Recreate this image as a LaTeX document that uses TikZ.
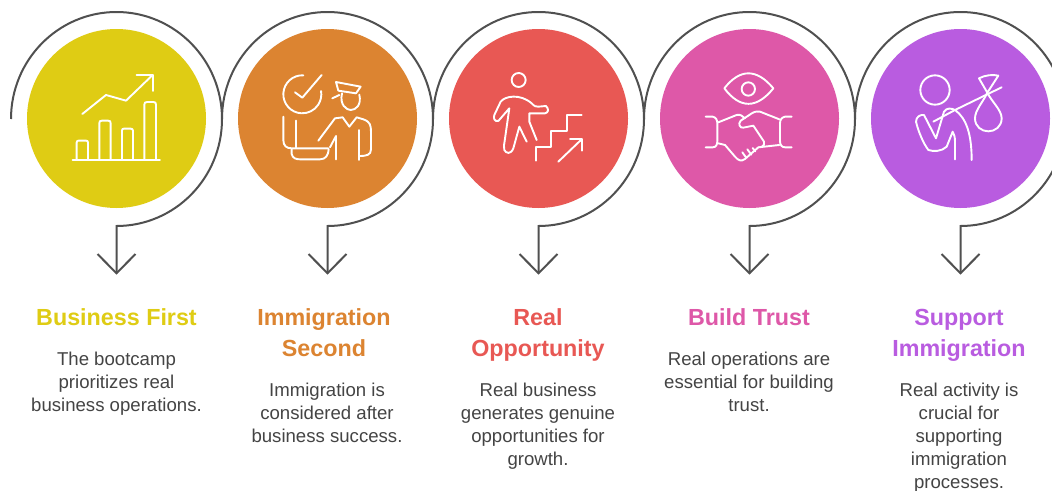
\documentclass[tikz,border=0pt]{standalone}
\usepackage{fontspec}
\setmainfont{Liberation Sans}
\definecolor{cA}{HTML}{DFCC14}
\definecolor{cB}{HTML}{DC8431}
\definecolor{cC}{HTML}{E85854}
\definecolor{cD}{HTML}{DE58A8}
\definecolor{cE}{HTML}{B95CE0}
\definecolor{ln}{HTML}{505050}
\definecolor{bodyc}{HTML}{444444}
\tikzset{
  disc/.style={circle,minimum size=179pt,inner sep=0pt,fill=#1},
  conn/.style={draw=ln,line width=2pt,line join=miter},
  ico/.style={draw=white,line width=1.9pt,line cap=round,line join=round,fill=none},
  head/.style={anchor=north,inner sep=0pt,align=center,text=#1,font=\fontsize{23.3}{31}\selectfont\bfseries},
  bodyt/.style={anchor=north,inner sep=0pt,align=center,text=bodyc,font=\fontsize{18.6}{23}\selectfont},
  icoscope/.style={x=0.3333pt,y=-0.3333pt}
}
\begin{document}
\begin{tikzpicture}[x=1pt,y=-1pt]
\useasboundingbox (0,0) rectangle (1052,490);
\clip (0,0) rectangle (1052,490);
\fill[white] (0,0) rectangle (1052,490);
\foreach \n/\cx/\col in {1/116.5/cA,2/327.5/cB,3/538.5/cC,4/749.5/cD,5/960.5/cE}{
  \node[disc=\col] (d\n) at (\cx,118.5) {};
  \coordinate (s\n) at (\cx-105.5,119);
  \coordinate (t\n) at (\cx,273.3);
  \coordinate (wa\n) at (\cx-19,254);
  \coordinate (wb\n) at (\cx+19,254);
  \draw[conn] (s\n) arc[start angle=180,end angle=450,x radius=105.5,y radius=107] -- (t\n);
  \draw[conn] (wa\n) -- (t\n) -- (wb\n);
}
% icon 1
\begin{scope}[shift={(0,0)},icoscope]
\draw[ico] (218,480) -- (480,480);
\draw[ico] (230,478) -- (230,428) .. controls (230,423) and (232,422) .. (236,422) -- (258,422) .. controls (262,422) and (264,424) .. (264,428) -- (264,478);
\draw[ico] (298,478) -- (298,370) .. controls (298,364) and (300,362) .. (306,362) -- (324,362) .. controls (330,362) and (332,364) .. (332,370) -- (332,478);
\draw[ico] (366,478) -- (366,392) .. controls (366,388) and (368,386) .. (372,386) -- (392,386) .. controls (396,386) and (399,388) .. (399,392) -- (399,478);
\draw[ico] (433,478) -- (433,314) .. controls (433,308) and (436,306) .. (442,306) -- (460,306) .. controls (466,306) and (468,308) .. (468,314) -- (468,478);
\draw[ico] (247,342) -- (318,285) -- (378,302) -- (458,225);
\draw[ico] (410,225) -- (458,225) -- (458,273);
\end{scope}
% icon 2
\begin{scope}[shift={(220,60)},icoscope]
\draw[ico] (250,46) arc[start angle=-87,end angle=-370,radius=57];
\draw[ico] (225,97) -- (247,113) -- (305,45);
\draw[ico] (348,66) -- (422,80) -- (408,100) -- (355,92) -- cycle;
\draw[ico] (337,115) -- (358,105);
\draw[ico] (366,100) .. controls (358,135) and (380,150) .. (392,150) .. controls (408,150) and (425,135) .. (418,104);
\draw[ico] (295,242) -- (345,175) -- (368,172) -- (388,200) -- (410,172) -- (430,178) .. controls (450,185) and (453,195) .. (453,215) -- (453,268) .. controls (453,285) and (440,288) .. (418,288);
\draw[ico] (418,300) -- (418,210);
\draw[ico] (348,298) -- (348,228) -- (330,262);
\draw[ico] (190,170) -- (190,240) .. controls (190,258) and (200,265) .. (215,265) -- (325,265);
\draw[ico] (215,268) -- (215,282) .. controls (218,295) and (228,298) .. (240,298) -- (300,298) .. controls (318,298) and (325,285) .. (326,268);
\draw[ico] (228,182) -- (228,262);
\end{scope}
% icon 3
\begin{scope}[shift={(470,60)},icoscope]
\draw[ico] (146,60) circle[radius=21];
\draw[ico] (170,245) -- (148,200) -- (130,265) .. controls (122,285) and (108,280) .. (103,270) .. controls (100,262) and (103,250) .. (103,250) -- (118,145) -- (85,183) .. controls (72,186) and (70,172) .. (73,165) -- (92,125) .. controls (105,108) and (150,100) .. (185,130) .. controls (192,138) and (200,142) .. (205,140) -- (228,138) .. controls (238,148) and (235,158) .. (225,160) -- (178,160) -- (178,185) -- (200,240);
\draw[ico] (197,302) -- (197,260) -- (243,260) -- (243,212) -- (290,212) -- (290,166) -- (335,166);
\draw[ico] (265,305) -- (335,238);
\draw[ico] (300,238) -- (335,238) -- (335,272);
\end{scope}
% icon 4
\begin{scope}[shift={(690,60)},icoscope]
\draw[ico] (103,85) .. controls (150,25) and (200,25) .. (250,85) .. controls (200,147) and (150,147) .. (103,85) -- cycle;
\draw[ico] (175,87) circle[radius=20];
\draw[ico] (47,170) -- (68,170) .. controls (78,172) and (82,180) .. (82,190) -- (82,243) .. controls (82,254) and (78,262) .. (68,262) -- (47,262);
\draw[ico] (305,170) -- (285,170) .. controls (275,172) and (270,180) .. (270,190) -- (270,243) .. controls (270,254) and (275,262) .. (285,262) -- (305,262);
\draw[ico] (85,187) -- (140,165) .. controls (150,162) and (158,168) .. (165,175);
\draw[ico] (268,178) -- (210,155) .. controls (195,152) and (185,160) .. (178,165) -- (152,182) .. controls (143,192) and (150,205) .. (160,203) -- (190,197) -- (222,245) .. controls (225,258) and (215,262) .. (205,262) -- (268,255);
\draw[ico] (85,250) -- (105,255) -- (135,290) .. controls (145,302) and (155,305) .. (165,297) -- (205,262);
\draw[ico] (157,277) -- (168,292);
\draw[ico] (172,268) -- (184,284);
\draw[ico] (188,264) -- (196,274);
\end{scope}
% icon 5
\begin{scope}[shift={(900,60)},icoscope]
\draw[ico] (105,90) circle[radius=44];
\draw[ico] (100,185) -- (165,150) -- (305,82);
\draw[ico] (262,98) -- (237,55) .. controls (255,45) and (280,43) .. (295,47) -- (262,98);
\draw[ico] (262,98) .. controls (250,125) and (225,150) .. (225,175) .. controls (225,200) and (245,214) .. (265,214) .. controls (285,214) and (305,200) .. (305,175) .. controls (305,150) and (275,125) .. (262,98);
\draw[ico] (48,185) .. controls (48,170) and (62,163) .. (72,165) -- (108,235) -- (132,155) .. controls (140,142) and (155,145) .. (165,150) .. controls (200,175) and (215,225) .. (215,300);
\draw[ico] (165,298) -- (165,245) .. controls (165,230) and (162,222) .. (158,215) -- (140,260) .. controls (125,275) and (100,275) .. (85,270) .. controls (70,250) and (55,215) .. (48,185);
\end{scope}
% text
\node[head=cA] (h1) at (116.5,304) {\strut Business First};
\node[bodyt] (b1) at (116.5,349.5) {\strut The bootcamp\\prioritizes real\\business operations.};
\node[head=cB] (h2) at (324,304) {\strut Immigration\\Second};
\node[bodyt] (b2) at (327,380.3) {\strut Immigration is\\considered after\\business success.};
\node[head=cC] (h3) at (538,304) {\strut Real\\Opportunity};
\node[bodyt] (b3) at (538,380.3) {\strut Real business\\generates genuine\\opportunities for\\growth.};
\node[head=cD] (h4) at (749,304) {\strut Build Trust};
\node[bodyt] (b4) at (749,349.5) {\strut Real operations are\\essential for building\\trust.};
\node[head=cE] (h5) at (959,304) {\strut Support\\Immigration};
\node[bodyt] (b5) at (959,380.3) {\strut Real activity is\\crucial for\\supporting\\immigration\\processes.};
\end{tikzpicture}
\end{document}
